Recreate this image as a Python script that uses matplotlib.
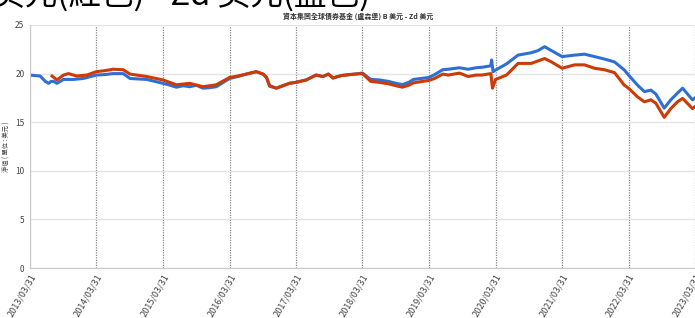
import matplotlib
matplotlib.use('Agg')
import matplotlib.pyplot as plt
import matplotlib.dates as mdates
import pandas as pd

plt.rcParams['font.family'] = ['Noto Sans CJK TC', 'DejaVu Sans']

# Zd 美元 (blue)
zd_dates = ['2013-03-31', '2013-04-25', '2013-05-26', '2013-06-23', '2013-07-11', '2013-07-25',
            '2013-08-08', '2013-08-26', '2013-10-01', '2013-11-25', '2014-01-18', '2014-03-31',
            '2014-05-15', '2014-07-01', '2014-08-25', '2014-10-01', '2014-11-15', '2015-01-01',
            '2015-03-31', '2015-05-01', '2015-06-13', '2015-07-20', '2015-08-25', '2015-10-01',
            '2015-11-06', '2015-12-10', '2016-01-18', '2016-03-31', '2016-05-15', '2016-07-01',
            '2016-08-25', '2016-10-01', '2016-10-20', '2016-11-06', '2016-12-13', '2017-02-23',
            '2017-03-31', '2017-05-26', '2017-07-19', '2017-08-25', '2017-09-25', '2017-10-20',
            '2017-12-05', '2018-01-20', '2018-03-31', '2018-05-15', '2018-07-01', '2018-08-20',
            '2018-10-01', '2018-11-05', '2018-12-10', '2019-01-05', '2019-03-31', '2019-05-01',
            '2019-06-15', '2019-07-15', '2019-09-15', '2019-11-01', '2019-12-15', '2020-01-15',
            '2020-03-05', '2020-03-09', '2020-03-17', '2020-03-31', '2020-05-30', '2020-08-01',
            '2020-10-13', '2020-11-18', '2020-12-25', '2021-02-01', '2021-03-31', '2021-06-08',
            '2021-08-01', '2021-09-25', '2021-11-18', '2022-01-13', '2022-03-08', '2022-03-31',
            '2022-05-20', '2022-06-26', '2022-08-01', '2022-08-28', '2022-10-13', '2022-11-18',
            '2022-12-25', '2023-01-22', '2023-03-17', '2023-03-31']
zd_nav = [19.85, 19.8, 19.75, 19.2, 19.0, 19.2,
          19.2, 19.0, 19.4, 19.4, 19.5, 19.85,
          19.9, 20.0, 20.0, 19.5, 19.45, 19.4,
          19.0, 18.85, 18.6, 18.75, 18.65, 18.8,
          18.5, 18.55, 18.65, 19.5, 19.7, 19.95,
          20.2, 19.95, 19.6, 18.7, 18.5, 19.0,
          19.1, 19.35, 19.85, 19.7, 19.95, 19.55,
          19.8, 19.9, 20.05, 19.4, 19.35, 19.2,
          19.0, 18.87, 19.1, 19.4, 19.6, 19.9,
          20.4, 20.45, 20.6, 20.45, 20.6, 20.65,
          20.8, 21.4, 20.2, 20.37, 21.0, 21.9,
          22.15, 22.36, 22.77, 22.36, 21.75, 21.9,
          22.0, 21.75, 21.5, 21.2, 20.37, 19.85,
          18.8, 18.15, 18.3, 17.9, 16.45, 17.3,
          18.0, 18.5, 17.3, 17.5]

# B 美元 (red)
b_dates = ['2013-07-30', '2013-08-26', '2013-10-01', '2013-10-28', '2013-12-13', '2014-02-06',
           '2014-03-31', '2014-05-15', '2014-07-01', '2014-08-25', '2014-10-01', '2015-01-01',
           '2015-03-31', '2015-06-13', '2015-08-25', '2015-11-06', '2016-01-18', '2016-03-31',
           '2016-05-15', '2016-07-01', '2016-08-25', '2016-10-01', '2016-10-20', '2016-11-06',
           '2016-12-13', '2017-02-23', '2017-03-31', '2017-05-26', '2017-07-19', '2017-08-25',
           '2017-09-25', '2017-10-20', '2017-12-05', '2018-01-20', '2018-03-31', '2018-05-15',
           '2018-07-01', '2018-08-20', '2018-10-01', '2018-11-05', '2018-12-10', '2019-01-05',
           '2019-03-31', '2019-05-01', '2019-06-15', '2019-07-15', '2019-09-15', '2019-11-01',
           '2019-12-15', '2020-01-15', '2020-03-05', '2020-03-14', '2020-03-31', '2020-05-30',
           '2020-08-01', '2020-10-13', '2020-12-25', '2021-02-01', '2021-03-31', '2021-06-08',
           '2021-08-01', '2021-09-25', '2021-11-18', '2022-01-13', '2022-03-08', '2022-03-31',
           '2022-05-20', '2022-06-26', '2022-08-01', '2022-08-28', '2022-10-13', '2022-11-18',
           '2022-12-25', '2023-01-22', '2023-03-17', '2023-03-31']
b_nav = [19.75, 19.35, 19.85, 20.0, 19.75, 19.85,
         20.2, 20.3, 20.45, 20.4, 19.95, 19.7,
         19.35, 18.85, 19.0, 18.65, 18.85, 19.6,
         19.75, 19.95, 20.2, 19.95, 19.6, 18.75,
         18.5, 19.0, 19.1, 19.35, 19.85, 19.7,
         19.95, 19.55, 19.8, 19.9, 20.0, 19.2,
         19.1, 18.95, 18.75, 18.6, 18.8, 19.05,
         19.3, 19.5, 19.95, 19.85, 20.05, 19.7,
         19.85, 19.85, 20.0, 18.5, 19.4, 19.85,
         21.05, 21.05, 21.55, 21.2, 20.55, 20.9,
         20.9, 20.55, 20.4, 20.1, 18.8, 18.5,
         17.6, 17.1, 17.3, 16.95, 15.5, 16.4,
         17.1, 17.45, 16.4, 16.6]

year_ticks = [pd.Timestamp(f'{y}-03-31') for y in range(2013, 2024)]

fig = plt.figure(figsize=(6.95, 3.18), dpi=100)
ax = fig.add_axes([30 / 695, 50 / 318, 665 / 695, 243 / 318])

ax.plot(pd.to_datetime(zd_dates), zd_nav, color='#2f6fd3', lw=2.2)
ax.plot(pd.to_datetime(b_dates), b_nav, color='#cc3b06', lw=2.2)

ax.set_xlim(year_ticks[0], year_ticks[-1])
ax.set_ylim(0, 25)
ax.set_yticks([0, 5, 10, 15, 20, 25])
ax.set_xticks(year_ticks)
ax.xaxis.set_major_formatter(mdates.DateFormatter('%Y/%m/%d'))
ax.grid(axis='y', color='#e4e4e4', lw=1.0)
ax.grid(axis='x', color='#888888', lw=0.9, ls=(0, (1, 1)))
ax.set_axisbelow(True)

for s in ['top', 'right']:
    ax.spines[s].set_visible(False)
for s in ['left', 'bottom']:
    ax.spines[s].set_color('#c8c8cc')
ax.tick_params(axis='y', length=0, labelsize=6, labelcolor='#444444', pad=4)
ax.tick_params(axis='x', length=0, labelsize=6.5, labelcolor='#444444', pad=3)
for lab in ax.get_xticklabels():
    lab.set_rotation(60)
    lab.set_ha('right')
    lab.set_va('top')
    lab.set_rotation_mode('anchor')

ax.set_ylabel('淨值 ( 單位 : 美元 )', fontsize=4.5, color='#444444', labelpad=3)
fig.text(0.515, 0.948, '資本集團全球債券基金 (盧森堡) B 美元 - Zd 美元', ha='center', va='center',
         fontsize=5, fontweight='bold', color='#333333')
fig.text(-0.012, 1 - 6 / 318, '美元(紅色) - Zd 美元(藍色)', ha='left', va='baseline',
         fontsize=23.5, color='#000000')

fig.savefig('out.png', dpi=100)
